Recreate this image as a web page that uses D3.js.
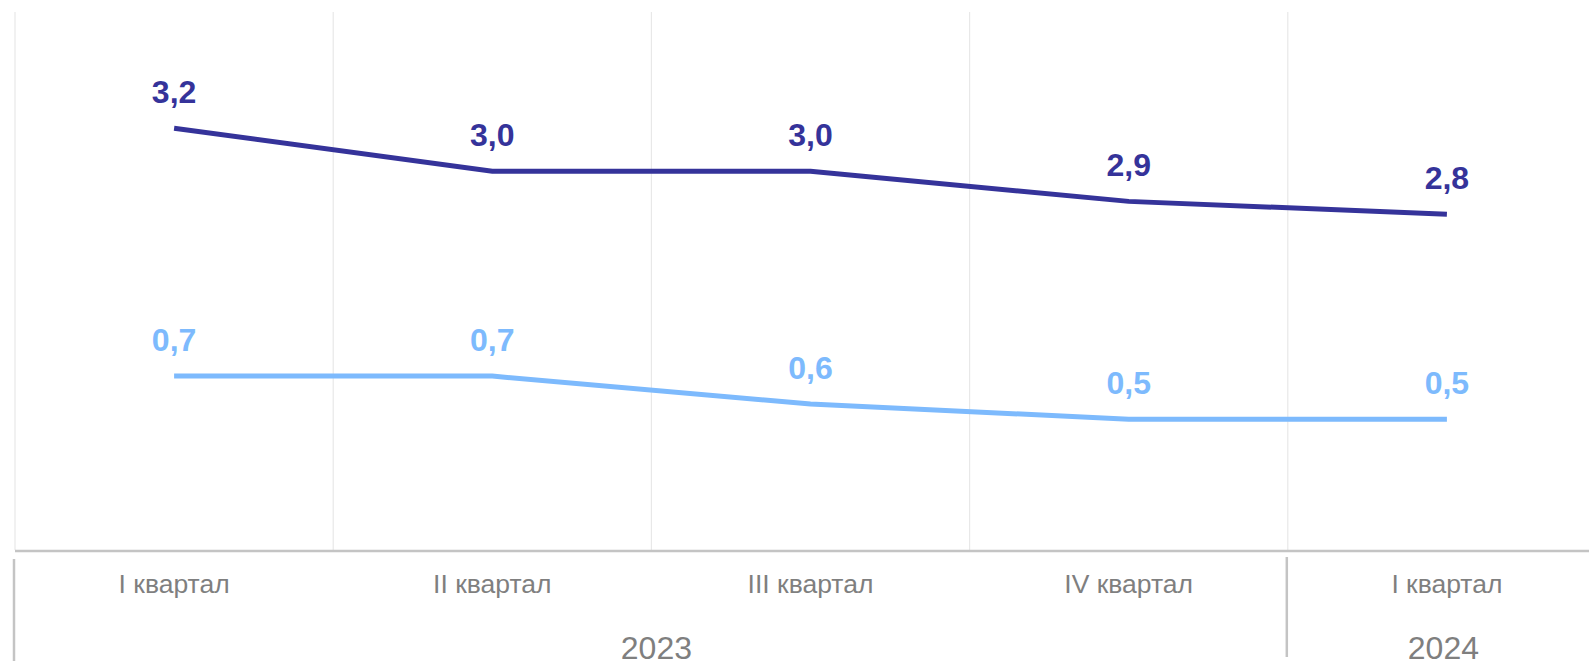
<!DOCTYPE html>
<html>
<head>
<meta charset="utf-8">
<script src="https://cdn.jsdelivr.net/npm/d3@7"></script>
<style>
  body { margin: 0; background: #fff; overflow: hidden; }
  svg { display: block; font-family: "Liberation Sans", Arial, sans-serif; }
</style>
</head>
<body>
<svg id="chart"></svg>
<script>
var width = 1589
var height = 661

// data
var quarters = ["I квартал", "II квартал", "III квартал", "IV квартал", "I квартал"]
var years = ["2023", "2024"]
var yearSpans = [4, 1]   // how many quarters each year covers
var seriesDark = [3.2, 3.0, 3.0, 2.86, 2.8]
var seriesLight = [0.7, 0.7, 0.57, 0.5, 0.5]

var plotLeft = 15
var plotTop = 12
var plotBottom = 550
var bandW = 318.2

var svg = d3.select('#chart').attr('width', width).attr('height', height)

var x = d3.scaleBand()
    .domain(d3.range(quarters.length))
    .range([plotLeft, plotLeft + bandW * quarters.length])

// two value axes, same unit size but shifted
var yDark = d3.scaleLinear().domain([1.24, 3.74]).range([plotBottom, plotTop])
var yLight = d3.scaleLinear().domain([-0.108, 2.392]).range([plotBottom, plotTop])

// vertical grid lines at band edges
svg.selectAll("line.grid")
    .data(d3.range(quarters.length))
    .enter().append("line")
        .attr("class", "grid")
        .attr("x1", function(d) { return x(d) })
        .attr("x2", function(d) { return x(d) })
        .attr("y1", plotTop)
        .attr("y2", plotBottom)
        .attr("stroke", "#e8e8e8")
        .attr("stroke-width", 1.2)

// bottom axis line
svg.append("line")
    .attr("x1", plotLeft)
    .attr("x2", width)
    .attr("y1", plotBottom + 1)
    .attr("y2", plotBottom + 1)
    .attr("stroke", "#c4c4c4")
    .attr("stroke-width", 2.5)

// year group dividers
var cum = 0
var dividers = [0]
yearSpans.forEach(function(s) { cum += s; dividers.push(cum) })
svg.selectAll("line.div")
    .data(dividers.slice(0, -1))
    .enter().append("line")
        .attr("class", "div")
        .attr("x1", function(d) { return x(d) - 1 })
        .attr("x2", function(d) { return x(d) - 1 })
        .attr("y1", function(d) { return d == 0 ? 559 : 557 })
        .attr("y2", function(d) { return d == 0 ? height : 657 })
        .attr("stroke", "#c4c4c4")
        .attr("stroke-width", 2.5)

// quarter labels
svg.selectAll("text.cat")
    .data(quarters)
    .enter().append("text")
        .attr("class", "cat")
        .attr("x", function(d, i) { return x(i) + x.bandwidth() / 2 })
        .attr("y", 593)
        .attr("text-anchor", "middle")
        .attr("font-size", 26.5)
        .attr("fill", "#7f7f7f")
        .text(function(d) { return d })

// year labels, centred on the visible part of their quarters
svg.selectAll("text.year")
    .data(years)
    .enter().append("text")
        .attr("class", "year")
        .attr("x", function(d, i) {
            var s = 0
            for (var k = 0; k < i; k++) s += yearSpans[k]
            var a = x(s)
            var b = Math.min(x(s + yearSpans[i] - 1) + x.bandwidth(), width)
            return (a + b) / 2 + 5
        })
        .attr("y", 659)
        .attr("text-anchor", "middle")
        .attr("font-size", 32)
        .attr("fill", "#7f7f7f")
        .text(function(d) { return d })

function drawSeries(values, yScale, color) {
    var line = d3.line()
        .x(function(d, i) { return x(i) + x.bandwidth() / 2 })
        .y(function(d) { return yScale(d) })

    svg.append("path")
        .datum(values)
        .attr("fill", "none")
        .attr("stroke", color)
        .attr("stroke-width", 5)
        .attr("d", line)

    var g = svg.append("g")
    g.selectAll("text")
        .data(values)
        .enter().append("text")
            .attr("x", function(d, i) { return x(i) + x.bandwidth() / 2 })
            .attr("y", function(d) { return yScale(d) - 25 })
            .attr("text-anchor", "middle")
            .attr("font-size", 32)
            .attr("font-weight", "bold")
            .attr("fill", color)
            .text(function(d) { return d.toFixed(1).replace(".", ",") })
}

drawSeries(seriesDark, yDark, "#35339a")
drawSeries(seriesLight, yLight, "#7dbafd")
</script>
</body>
</html>
